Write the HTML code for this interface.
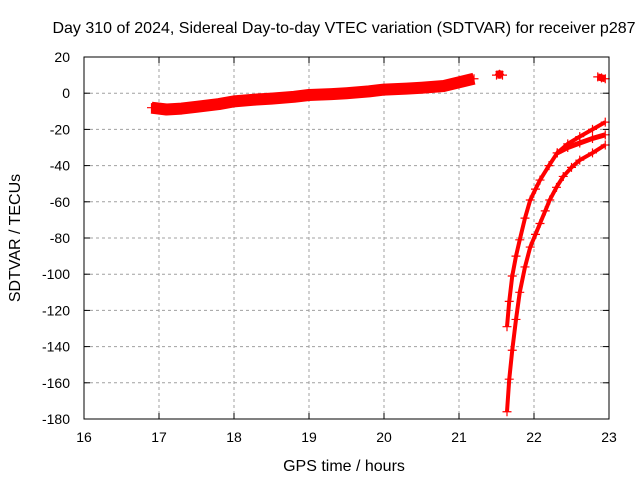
<!DOCTYPE html>
<html><head><meta charset="utf-8"><style>
body{margin:0;background:#fff}
svg{font-family:"Liberation Sans",sans-serif;font-size:14px}
</style></head><body>
<svg id="c" width="640" height="480">
<text x="344" y="33" text-anchor="middle" style="font-size:16px">Day 310 of 2024, Sidereal Day-to-day VTEC variation (SDTVAR) for receiver p287</text>
<text x="344" y="471" text-anchor="middle" style="font-size:16px">GPS time / hours</text>
<text transform="translate(20,238) rotate(-90)" text-anchor="middle" style="font-size:16px">SDTVAR / TECUs</text>
<g id="grid"></g><g id="marks"></g><g id="axes"></g>
</svg>
<script>
const xTicks=[16,17,18,19,20,21,22,23];
const yTicks=[20,0,-20,-40,-60,-80,-100,-120,-140,-160,-180];
const bandHours=[16.9,17.1,17.3,17.5,17.8,18,18.3,18.5,18.8,19,19.3,19.5,19.8,20,20.3,20.5,20.8,21,21.2];
const bandValues=[-8,-9,-8.5,-7.5,-6,-4.5,-3.5,-3,-2,-1,-0.5,0,1,2,2.5,3,4,6,8];
const clusterHours=[21.5,21.54,21.58,22.85,22.9,22.95];
const clusterValues=[10,10.5,10,9,8.5,8];
const curveAHours=[21.64,21.67,21.71,21.76,21.81,21.88,21.95,22.02,22.08,22.2,22.31,22.45,22.61,22.78,22.95];
const curveAValues=[-129,-115,-101,-90,-81,-69,-59,-53,-48,-40,-33,-28,-24,-20,-16];
const curveA2Hours=[22.31,22.45,22.61,22.78,22.95];
const curveA2Values=[-33,-30,-27.5,-25,-23];
const curveBHours=[21.64,21.67,21.71,21.76,21.81,21.88,21.95,22.02,22.08,22.15,22.21,22.3,22.39,22.5,22.61,22.78,22.95];
const curveBValues=[-176,-158,-142,-125,-110,-96,-85,-78,-72,-65,-59,-52,-46,-41,-37,-33,-28.6];
const L=84,R=609,T=57,B=419;
const X=h=>L+(h-16)*(R-L)/7;
const Y=v=>T+(20-v)*(B-T)/200;
const NS="http://www.w3.org/2000/svg";
function mk(tag,attrs,parent){const e=document.createElementNS(NS,tag);for(const k in attrs)e.setAttribute(k,attrs[k]);parent.appendChild(e);return e;}
const grid=document.getElementById('grid'),axes=document.getElementById('axes'),marks=document.getElementById('marks');
xTicks.forEach(t=>{
 if(t>16&&t<23){const g=mk('line',{x1:X(t),x2:X(t),y1:T,y2:B,stroke:'#a0a0a0','stroke-dasharray':'3,3'},grid);
 
 }
 mk('line',{x1:X(t),x2:X(t),y1:B,y2:B-6,stroke:'#000'},axes);
 mk('line',{x1:X(t),x2:X(t),y1:T,y2:T+6,stroke:'#000'},axes);
 const tx=mk('text',{x:X(t),y:442,'text-anchor':'middle'},axes);tx.textContent=t;
 
 
});
yTicks.forEach(t=>{
 if(t<20&&t>-180){const g=mk('line',{x1:L,x2:R,y1:Y(t),y2:Y(t),stroke:'#a0a0a0','stroke-dasharray':'3,3'},grid);
 
 }
 mk('line',{x1:L,x2:L+6,y1:Y(t),y2:Y(t),stroke:'#000'},axes);
 mk('line',{x1:R,x2:R-6,y1:Y(t),y2:Y(t),stroke:'#000'},axes);
 const tx=mk('text',{x:70,y:Y(t)+5,'text-anchor':'end'},axes);tx.textContent=t;
 
 
});
const fr=mk('rect',{x:L,y:T,width:R-L,height:B-T,fill:'none',stroke:'#000'},axes);


function series(hs,vs,name,w){
 const g=mk('g',{},marks);
 
 
 if(w>0){mk('polyline',{points:hs.map((h,i)=>X(h)+','+Y(vs[i])).join(' '),fill:'none',stroke:'#f00','stroke-width':w,'stroke-linejoin':'round'},g);}
 hs.forEach((h,i)=>{const x=X(h),y=Y(vs[i]);
  mk('path',{d:`M${x-4.5},${y}H${x+4.5}M${x},${y-4.5}V${y+4.5}`,stroke:'#f00','stroke-width':1.2},g);});
}
series(bandHours,bandValues,'main-band-series',12);
series(clusterHours.slice(0,3),clusterValues.slice(0,3),'cluster-2130',8);
series(clusterHours.slice(3),clusterValues.slice(3),'cluster-2290',7);
series(curveAHours,curveAValues,'curve-a-series',4);
series(curveA2Hours,curveA2Values,'curve-a2-series',5);
series(curveBHours,curveBValues,'curve-b-series',4);
</script>
</body></html>
